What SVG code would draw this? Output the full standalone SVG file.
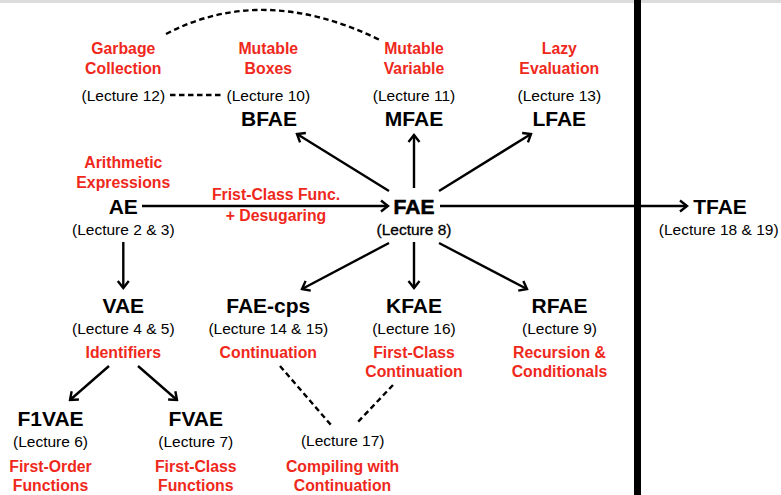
<svg xmlns="http://www.w3.org/2000/svg" width="781" height="495" viewBox="0 0 781 495">
<defs>
<marker id="arr" markerUnits="userSpaceOnUse" viewBox="-8 -7 10 14" refX="0" refY="0" markerWidth="10" markerHeight="14" orient="auto">
<path d="M-7,-5.5 L0,0 L-7,5.5" fill="none" stroke="#000" stroke-width="2.4" stroke-linejoin="miter"/>
</marker>
<style>
text{font-family:"Liberation Sans",Arial,sans-serif;text-anchor:middle}
.t{font-size:21px;font-weight:bold;fill:#000}
.l{font-size:15.5px;fill:#000}
.r{font-size:15.8px;font-weight:bold;fill:#ef281c}
.e{fill:none;stroke:#000;stroke-width:2.4}
.d{fill:none;stroke:#000;stroke-width:2.4;stroke-dasharray:5.5 3.5}
</style>
</defs>
<rect x="0" y="0" width="781" height="495" fill="#fff"/>
<rect x="0" y="0" width="781" height="3" fill="#dcdcdc"/>
<rect x="634" y="0" width="7" height="495" fill="#000"/>

<g id="connectors">
<line class="e" x1="142" y1="206" x2="388" y2="206" marker-end="url(#arr)"/>
<line class="e" x1="440" y1="206" x2="687" y2="206" marker-end="url(#arr)"/>
<line class="e" x1="389" y1="191" x2="297" y2="134" marker-end="url(#arr)"/>
<line class="e" x1="414" y1="188" x2="414" y2="135" marker-end="url(#arr)"/>
<line class="e" x1="439" y1="191" x2="531" y2="134" marker-end="url(#arr)"/>
<line class="e" x1="389" y1="243" x2="302" y2="289" marker-end="url(#arr)"/>
<line class="e" x1="414" y1="242" x2="414" y2="288" marker-end="url(#arr)"/>
<line class="e" x1="439" y1="243" x2="527" y2="289" marker-end="url(#arr)"/>
<line class="e" x1="123.3" y1="242" x2="123.3" y2="288" marker-end="url(#arr)"/>
<line class="e" x1="109" y1="366" x2="70" y2="400" marker-end="url(#arr)"/>
<line class="e" x1="138" y1="366" x2="177" y2="400" marker-end="url(#arr)"/>
<line class="d" x1="170" y1="95" x2="224" y2="95"/>
<path class="d" d="M166,34 Q263,-17 380,40"/>
<line class="d" x1="280" y1="366" x2="331" y2="425"/>
<line class="d" x1="393" y1="385" x2="356" y2="424"/>
<text class="r" x="276" y="200">Frist-Class Func.</text>
<text class="r" x="276" y="221">+ Desugaring</text>
</g>

<g id="ae">
<text class="r" x="123.3" y="168">Arithmetic</text>
<text class="r" x="123.3" y="188">Expressions</text>
<text class="t" x="123.3" y="214">AE</text>
<text class="l" x="123.3" y="235">(Lecture 2 &amp; 3)</text>
</g>
<g id="gc">
<text class="r" x="123.3" y="54">Garbage</text>
<text class="r" x="123.3" y="74">Collection</text>
<text class="l" x="123.3" y="101">(Lecture 12)</text>
</g>
<g id="bfae">
<text class="r" x="268.3" y="54">Mutable</text>
<text class="r" x="268.3" y="74">Boxes</text>
<text class="l" x="268.3" y="101">(Lecture 10)</text>
<text class="t" x="269" y="125.5">BFAE</text>
</g>
<g id="mfae">
<text class="r" x="414" y="54">Mutable</text>
<text class="r" x="414" y="74">Variable</text>
<text class="l" x="414" y="101">(Lecture 11)</text>
<text class="t" x="414" y="125.5">MFAE</text>
</g>
<g id="lfae">
<text class="r" x="559.3" y="54">Lazy</text>
<text class="r" x="559.3" y="74">Evaluation</text>
<text class="l" x="559.3" y="101">(Lecture 13)</text>
<text class="t" x="559.3" y="125.5">LFAE</text>
</g>
<g id="fae">
<text class="t" x="414" y="214" stroke="#000" stroke-width="0.6">FAE</text>
<text class="l" x="414" y="235" stroke="#000" stroke-width="0.3">(Lecture 8)</text>
</g>
<g id="tfae">
<text class="t" x="720" y="214">TFAE</text>
<text class="l" x="718.7" y="235">(Lecture 18 &amp; 19)</text>
</g>
<g id="vae">
<text class="t" x="123.3" y="313">VAE</text>
<text class="l" x="123.3" y="334">(Lecture 4 &amp; 5)</text>
<text class="r" x="123.3" y="358">Identifiers</text>
</g>
<g id="faecps">
<text class="t" x="268.3" y="313">FAE-cps</text>
<text class="l" x="268.3" y="334">(Lecture 14 &amp; 15)</text>
<text class="r" x="268.3" y="358">Continuation</text>
</g>
<g id="kfae">
<text class="t" x="414" y="313">KFAE</text>
<text class="l" x="414" y="334">(Lecture 16)</text>
<text class="r" x="414" y="358">First-Class</text>
<text class="r" x="414" y="377">Continuation</text>
</g>
<g id="rfae">
<text class="t" x="559.5" y="313">RFAE</text>
<text class="l" x="559.5" y="334">(Lecture 9)</text>
<text class="r" x="559.5" y="358">Recursion &amp;</text>
<text class="r" x="559.5" y="377">Conditionals</text>
</g>
<g id="f1vae">
<text class="t" x="50.5" y="426">F1VAE</text>
<text class="l" x="50.5" y="446.5">(Lecture 6)</text>
<text class="r" x="50.5" y="471.5">First-Order</text>
<text class="r" x="50.5" y="490.5">Functions</text>
</g>
<g id="fvae">
<text class="t" x="195.8" y="426">FVAE</text>
<text class="l" x="195.8" y="446.5">(Lecture 7)</text>
<text class="r" x="195.8" y="471.5">First-Class</text>
<text class="r" x="195.8" y="490.5">Functions</text>
</g>
<g id="compiling">
<text class="l" x="342.7" y="446">(Lecture 17)</text>
<text class="r" x="342.5" y="471.5">Compiling with</text>
<text class="r" x="342.5" y="490.5">Continuation</text>
</g>
</svg>
